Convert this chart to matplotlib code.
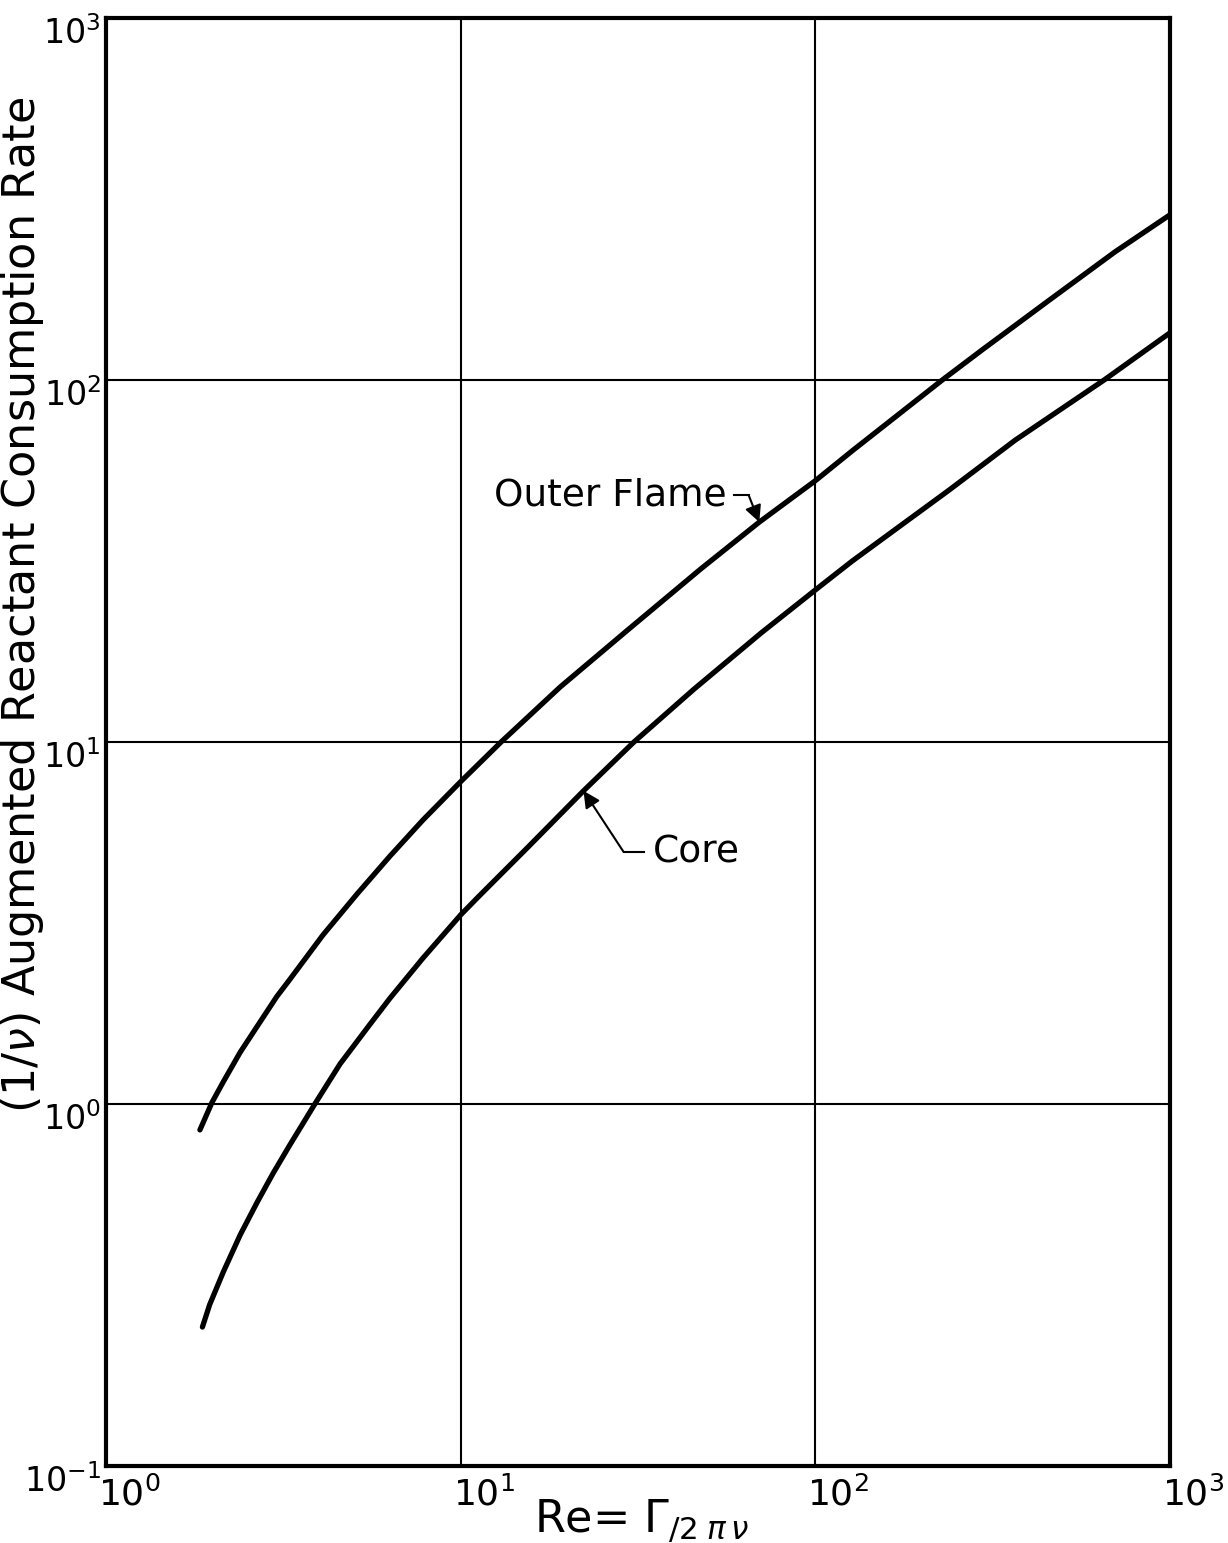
import matplotlib
matplotlib.use("Agg")
import matplotlib.pyplot as plt
import matplotlib.transforms as mtransforms

plt.rcParams['font.family'] = ['DejaVu Sans']
plt.rcParams['mathtext.fontset'] = 'dejavusans'

# Reynolds number and consumption rate along the outer-flame curve
outer_re = [1.84, 1.99, 2.14, 2.39, 2.67, 3.03, 3.30, 4.09, 5.10, 6.32, 7.83,
            10.0, 13.0, 19.1, 29.6, 47.6, 69.5, 100.0, 127.0, 228.0, 295.0,
            456.0, 700.0, 1000.0]
outer_rate = [0.848, 1.01, 1.15, 1.39, 1.64, 1.98, 2.21, 2.93, 3.80, 4.84, 6.09,
              7.77, 10.0, 14.2, 20.4, 30.1, 40.5, 52.7, 63.7, 100.0, 121.0,
              166.0, 226.0, 286.0]

# Reynolds number and consumption rate along the core curve
core_re = [1.87, 1.96, 2.14, 2.39, 2.67, 2.96, 3.30, 3.88, 4.57, 5.55, 6.32,
           7.83, 10.0, 11.2, 15.5, 22.2, 30.8, 45.5, 70.3, 100.0, 127.0,
           238.0, 366.0, 652.0, 1000.0]
core_rate = [0.242, 0.279, 0.343, 0.435, 0.536, 0.644, 0.771, 1.0, 1.29, 1.66,
             1.96, 2.53, 3.33, 3.73, 5.13, 7.33, 10.0, 14.0, 20.0, 26.3, 31.6,
             49.6, 68.2, 100.0, 135.0]

x_ticks = [1, 10, 100, 1000]
x_exps = ['0', '1', '2', '3']
y_ticks = [0.1, 1, 10, 100, 1000]
y_exps = ['-1', '0', '1', '2', '3']

fig = plt.figure(figsize=(12.28, 15.43), dpi=100)
ax = fig.add_axes([106 / 1228, 1 - 1466 / 1543, (1170 - 106) / 1228, (1466 - 18) / 1543])
ax.set_xscale('log')
ax.set_yscale('log')
ax.set_xlim(1, 1000)
ax.set_ylim(0.1, 1000)

for s in ax.spines.values():
    s.set_linewidth(3.0)
ax.set_xticks(x_ticks)
ax.set_yticks(y_ticks)
ax.set_xticks([], minor=True)
ax.set_yticks([], minor=True)
ax.tick_params(which='both', length=0, labelbottom=False, labelleft=False)
ax.grid(True, which='major', color='black', linewidth=1.5)

line_kw = dict(color='black', lw=3.8, solid_capstyle='round', solid_joinstyle='round')
ax.plot(outer_re, outer_rate, **line_kw)
ax.plot(core_re, core_rate, **line_kw)

# Decade labels along the y axis, hanging just below each gridline
ytrans = mtransforms.blended_transform_factory(ax.transAxes, ax.transData)
yoff = mtransforms.offset_copy(ytrans, fig=fig, x=-5, y=2, units='dots')
for v, e in zip(y_ticks, y_exps):
    ax.text(0, v, r'$10^{' + e + '}$', transform=yoff, ha='right', va='top',
            fontsize=24, clip_on=False)

# Decade labels along the x axis
xtrans = mtransforms.blended_transform_factory(ax.transData, ax.transAxes)
xoff = mtransforms.offset_copy(xtrans, fig=fig, x=-8, y=-10, units='dots')
for v, e in zip(x_ticks, x_exps):
    ax.text(v, 0, r'$10^{' + e + '}$', transform=xoff, ha='left', va='top',
            fontsize=26, clip_on=False)

fig.text(641 / 1228, 1 - 1521 / 1543, r'Re= $\Gamma_{/2\;\pi\,\nu}$', ha='center',
         va='center', fontsize=32)
fig.text(23 / 1228, 1 - 605 / 1543, r'(1/$\nu$) Augmented Reactant Consumption Rate',
         rotation=90, ha='center', va='center', fontsize=32)

# Curve labels with leader arrows
ax.text(12.4, 48, 'Outer Flame', ha='left', va='center', fontsize=27)
ax.plot([59.1, 64.9], [48, 48], color='black', lw=1.5)
ax.annotate('', xy=(69.5, 40.5), xytext=(64.9, 48),
            arrowprops=dict(arrowstyle='-|>', color='black', lw=1.5,
                            mutation_scale=25, shrinkA=0, shrinkB=0))

ax.text(34.8, 4.95, 'Core', ha='left', va='center', fontsize=27)
ax.plot([28.8, 32.9], [4.97, 4.97], color='black', lw=1.5)
ax.annotate('', xy=(22.2, 7.33), xytext=(28.8, 4.97),
            arrowprops=dict(arrowstyle='-|>', color='black', lw=1.5,
                            mutation_scale=25, shrinkA=0, shrinkB=0))

fig.savefig('out.png', dpi=100)
